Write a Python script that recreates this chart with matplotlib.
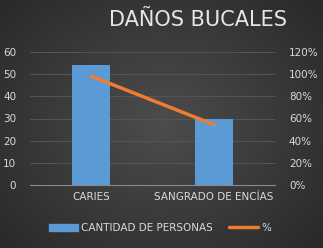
import numpy as np
import matplotlib.pyplot as plt
from matplotlib.patches import Rectangle
from matplotlib.lines import Line2D

categories = ["CARIES", "SANGRADO DE ENCÍAS"]
cantidad = [54, 30]
porcentaje = [98.2, 54.5]

left_ticks = [0, 10, 20, 30, 40, 50, 60]
right_ticks = [0, 20, 40, 60, 80, 100, 120]

txt = "#d9d9d9"
blue = "#5b9bd5"
orange = "#ed7d31"

fig = plt.figure(figsize=(3.23, 2.48), dpi=100)

# radial gradient background, lighter in the middle
bg = fig.add_axes([0, 0, 1, 1])
yy, xx = np.mgrid[-1:1:248j, -1:1:323j]
r = np.clip(np.sqrt(xx ** 2 + (yy * 0.9) ** 2) / 1.35, 0, 1)
g = 0.30 - 0.14 * r
bg.imshow(np.dstack([g, g, g]), aspect="auto", extent=[0, 1, 0, 1])
bg.axis("off")

ax = fig.add_axes([30 / 323, 63 / 248, 245 / 323, 133 / 248])
ax.patch.set_alpha(0)
x = np.arange(len(categories))
ax.bar(x, cantidad, width=0.31, color=blue, zorder=2)
ax.set_xlim(-0.5, 1.5)
ax.set_ylim(0, 60)
ax.set_yticks(left_ticks)
ax.set_xticks(x, categories)
ax.grid(axis="y", color="#555555", linewidth=0.7, zorder=0)
for s in ["top", "right", "left"]:
    ax.spines[s].set_visible(False)
ax.spines["bottom"].set_color("#8a8a8a")
ax.tick_params(length=0, colors=txt, labelsize=7.5)
ax.tick_params(axis="y", pad=10)
ax.tick_params(axis="x", pad=5)

ax2 = ax.twinx()
ax2.plot(x, porcentaje, color=orange, linewidth=2.5, solid_capstyle="round", zorder=3)
ax2.set_ylim(0, 120)
ax2.set_yticks(right_ticks, [f"{t}%" for t in right_ticks])
for s in ax2.spines.values():
    s.set_visible(False)
ax2.tick_params(length=0, colors=txt, labelsize=7.5, pad=10)

fig.text(198 / 323, 1 - 20 / 248, "DAÑOS BUCALES", color="#e6e6e6",
         fontsize=15, ha="center", va="center")

handles = [Rectangle((0, 0), 1, 1, color=blue),
           Line2D([0], [0], color=orange, linewidth=2.5, solid_capstyle="round")]
fig.legend(handles, ["CANTIDAD DE PERSONAS", "%"], loc="center",
           bbox_to_anchor=(160 / 323, 1 - 228 / 248), ncol=2, frameon=False,
           fontsize=7.5, labelcolor=txt, handlelength=2.8, handletextpad=0.3,
           columnspacing=1.5)

fig.savefig("out.png", dpi=100)
